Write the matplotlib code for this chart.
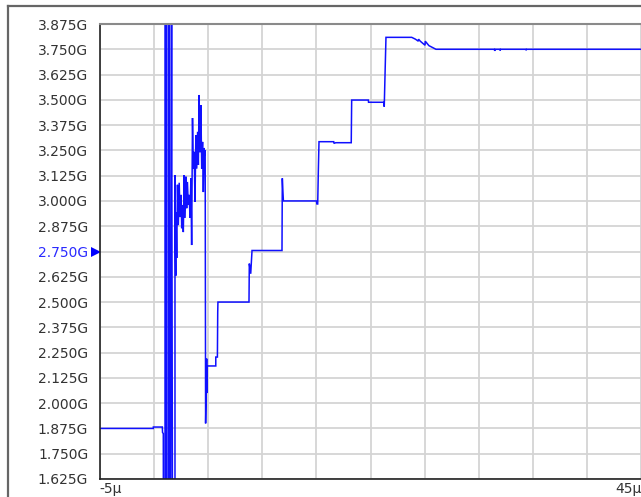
import matplotlib
matplotlib.use("Agg")
import matplotlib.pyplot as plt
from matplotlib.lines import Line2D
import numpy as np

# ---- data (time in microseconds, frequency in GHz) ----
prelock_t = [-5.0, -0.07, -0.07, 0.76, 0.78, 0.85, 0.86]
prelock_f = [1.875, 1.875, 1.882, 1.882, 1.855, 1.850, 1.30]

burst_t = [1.01, 1.01, 1.12, 1.14, 1.30, 1.30, 1.42, 1.44, 1.52, 1.62, 1.64, 1.70, 1.93]
burst_f = [1.30, 4.20, 4.20, 1.30, 1.30, 4.20, 4.20, 1.30, 1.30, 4.20, 3.19, 1.30, 1.30]

noise_t = [1.93, 1.96, 2.00, 2.02, 2.09, 2.16, 2.24, 2.32, 2.40, 2.50, 2.55, 2.62,
           2.70, 2.78, 2.86, 2.94, 3.01, 3.08, 3.16, 3.24, 3.32, 3.40, 3.47, 3.55,
           3.62, 3.70, 3.78, 3.86, 3.94, 4.02, 4.09, 4.16, 4.24, 4.32, 4.40, 4.48,
           4.55, 4.62, 4.68, 4.72]
noise_f = [3.128, 2.90, 2.63, 2.945, 2.718, 3.08, 2.88, 3.09, 2.92, 3.03, 2.865, 2.98,
           2.846, 3.128, 2.916, 3.12, 2.964, 3.094, 2.98, 3.03, 2.916, 3.113, 2.782, 3.41,
           3.16, 3.243, 2.996, 3.326, 3.16, 3.342, 3.178, 3.524, 3.24, 3.474, 3.16, 3.292,
           3.044, 3.262, 3.227, 3.25]

settle_t = [4.76, 4.86, 4.88, 4.90, 5.70, 5.70, 5.85, 5.88, 5.90,
            8.77, 8.80, 8.93, 9.05, 11.82, 11.85, 11.90, 11.95,
            15.00, 15.05, 15.12, 15.18, 15.24, 16.60, 16.62, 16.80, 18.22,
            18.26, 19.80, 19.82, 21.25, 21.27, 21.35, 21.43, 23.81,
            24.15, 24.42, 24.44, 24.60, 25.04, 25.06, 25.40, 26.05,
            31.45, 31.48, 31.52, 31.95, 31.98, 32.02, 34.35, 34.38, 34.42, 45.0]
settle_f = [1.90, 2.22, 2.05, 2.184, 2.184, 2.228, 2.228, 2.45, 2.50,
            2.50, 2.69, 2.64, 2.755, 2.755, 3.112, 3.05, 3.00,
            3.00, 2.985, 2.985, 3.15, 3.293, 3.293, 3.285, 3.288, 3.288,
            3.499, 3.499, 3.488, 3.488, 3.466, 3.64, 3.809, 3.809,
            3.800, 3.790, 3.800, 3.790, 3.770, 3.790, 3.768, 3.750,
            3.750, 3.742, 3.750, 3.750, 3.744, 3.750, 3.750, 3.745, 3.750, 3.750]

time_us = prelock_t + burst_t + noise_t + settle_t
freq_ghz = prelock_f + burst_f + noise_f + settle_f

y_ticks = np.arange(1.625, 3.8751, 0.125)
x_ticks = np.arange(-5, 45.01, 5)
marker_value = 2.750

# ---- figure ----
W, H = 641, 497
fig = plt.figure(figsize=(W / 100, H / 100), dpi=100)
fig.patch.set_facecolor("white")

left, right, top, bottom = 100, 641, 24, 479
ax = fig.add_axes([left / W, 1 - bottom / H, (right - left) / W, (bottom - top) / H])
ax.set_xlim(-5, 45)
ax.set_ylim(1.625, 3.875)

ax.plot(time_us, freq_ghz, color="#1010ff", lw=1.1, solid_joinstyle="miter")

ax.set_yticks(y_ticks)
ax.set_yticklabels([f"{v:.3f}G" for v in y_ticks])
ax.set_xticks(x_ticks)
ax.set_xticklabels([])
ax.tick_params(axis="both", length=0)
ax.tick_params(axis="y", pad=8.5, labelsize=10, labelcolor="#333333")
for lbl, v in zip(ax.get_yticklabels(), y_ticks):
    if abs(v - marker_value) < 1e-9:
        lbl.set_color("#2b2bff")

ax.grid(True, color="#d4d4d4", lw=1.3)
ax.set_axisbelow(True)
ax.spines["left"].set_color("#222222")
ax.spines["left"].set_linewidth(1.2)
ax.spines["bottom"].set_color("#222222")
ax.spines["bottom"].set_linewidth(1.2)
ax.spines["top"].set_color("#8a8a8a")
ax.spines["top"].set_linewidth(1.5)
ax.spines["right"].set_visible(False)

# marker for current value
ax.plot([-0.0065], [marker_value], marker=">", color="#0000ff", ms=7, mew=0,
        transform=ax.get_yaxis_transform(), clip_on=False)

# x end labels
fig.text(99 / W, 1 - 489 / H, "-5\u03bc", ha="left", va="center", fontsize=10, color="#333333")
fig.text(642 / W, 1 - 489 / H, "45\u03bc", ha="right", va="center", fontsize=10, color="#333333")

# window frame lines
fig.add_artist(Line2D([8 / W, 1], [1 - 6 / H, 1 - 6 / H], transform=fig.transFigure,
                      color="#666666", lw=1.6))
fig.add_artist(Line2D([8 / W, 8 / W], [1 - 6 / H, 0], transform=fig.transFigure,
                      color="#666666", lw=1.6))

fig.savefig("out.png", dpi=100, facecolor="white")
